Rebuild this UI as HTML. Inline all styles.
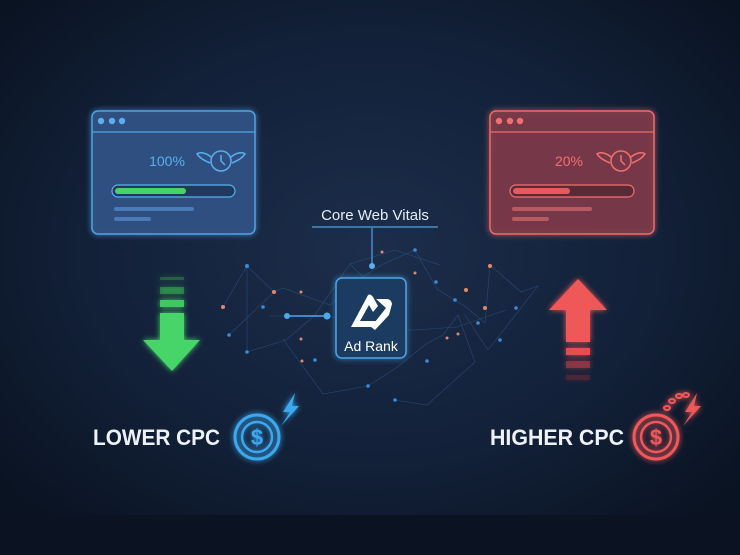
<!DOCTYPE html>
<html><head><meta charset="utf-8"><style>
html,body{margin:0;padding:0;width:740px;height:555px;overflow:hidden;background:#0c1628}
svg{display:block}
text{font-family:"Liberation Sans",sans-serif}
</style></head><body>
<svg width="740" height="555" viewBox="0 0 740 555" xmlns="http://www.w3.org/2000/svg">
<defs>
<radialGradient id="bg" cx="50%" cy="45%" r="65%">
<stop offset="0" stop-color="#1c2e4b"/><stop offset="0.6" stop-color="#122038"/><stop offset="1" stop-color="#0a1322"/>
</radialGradient>
<filter id="glow" x="-30%" y="-30%" width="160%" height="160%"><feGaussianBlur stdDeviation="3" result="b"/><feMerge><feMergeNode in="b"/><feMergeNode in="SourceGraphic"/></feMerge></filter>
</defs>
<rect width="740" height="555" fill="url(#bg)"/>
<rect y="515" width="740" height="40" fill="#0b1322"/>

<!-- network -->
<g stroke="#3a6aa8" stroke-width="0.6" opacity="0.5" fill="none">
<path d="M223 307 L247 266 L274 292 L283 288 L330 305 L363 277 L381 265 L415 250 L437 289 L466 307 L485 323 L490 265 L521 292 L538 286 L488 350 L465 315"/>
<path d="M247 266 L247 352 L286 340 L314 316 L350 264 L395 250 M274 292 L229 335 M283 339 L323 394 L368 386 L396 368 L426 344 L443 335 L458 315 L475 362 L427 405 L395 400"/>
<path d="M270 316 L330 316 L365 330 L415 330 L457 327 L506 310 M350 264 L365 279 M395 250 L440 265"/>
</g>
<g fill="#e08a6a">
<circle cx="223" cy="307" r="2"/><circle cx="274" cy="292" r="2"/><circle cx="301" cy="292" r="1.5"/><circle cx="301" cy="339" r="1.5"/><circle cx="382" cy="252" r="1.5"/><circle cx="415" cy="273" r="1.5"/><circle cx="466" cy="290" r="2"/><circle cx="485" cy="308" r="2"/><circle cx="458" cy="334" r="1.5"/><circle cx="447" cy="338" r="1.5"/><circle cx="490" cy="266" r="2"/><circle cx="302" cy="361" r="1.5"/>
</g>
<g fill="#3a8ad8">
<circle cx="247" cy="266" r="2"/><circle cx="229" cy="335" r="1.8"/><circle cx="247" cy="352" r="1.8"/><circle cx="263" cy="307" r="1.8"/><circle cx="415" cy="250" r="1.8"/><circle cx="436" cy="282" r="1.8"/><circle cx="455" cy="300" r="1.8"/><circle cx="478" cy="323" r="1.8"/><circle cx="516" cy="308" r="1.8"/><circle cx="395" cy="400" r="1.8"/><circle cx="368" cy="386" r="1.8"/><circle cx="427" cy="361" r="1.8"/><circle cx="315" cy="360" r="1.8"/><circle cx="500" cy="340" r="1.8"/>
</g>
<line x1="287" y1="316" x2="327" y2="316" stroke="#4aa8f0" stroke-width="1.5"/>
<circle cx="287" cy="316" r="3" fill="#4aa8f0"/><circle cx="327" cy="316" r="3.5" fill="#4aa8f0"/>

<!-- left window -->
<g filter="url(#glow)">
<rect x="92" y="111" width="163" height="123" rx="6" fill="#2e5080" fill-opacity="0.85" stroke="#4fa3e6" stroke-width="1.5"/>
</g>
<line x1="92" y1="132" x2="255" y2="132" stroke="#4fa3e6" stroke-width="1.2"/>
<circle cx="101" cy="121" r="3.2" fill="#5ab0ee"/><circle cx="112" cy="121" r="3.2" fill="#5ab0ee"/><circle cx="122" cy="121" r="3.2" fill="#5ab0ee"/>
<text x="167" y="166" font-size="14" fill="#5ab0ee" text-anchor="middle">100%</text>
<g stroke="#5ab0ee" stroke-width="1.5" fill="none">
<circle cx="221" cy="161" r="10"/><path d="M221 155 V161 L225 165"/>
<path d="M211 157 C205 152 199 152 197 154 C200 158 203 160 210 163"/>
<path d="M231 157 C237 152 243 152 245 154 C242 158 239 160 232 163"/>
</g>
<rect x="112" y="185" width="123" height="12" rx="6" fill="#1f3a5e" stroke="#5ab0ee" stroke-width="1.2"/>
<rect x="115" y="188" width="71" height="6" rx="3" fill="#46d46a"/>
<rect x="114" y="207" width="80" height="4" rx="2" fill="#4a7ab8"/>
<rect x="114" y="217" width="37" height="4" rx="2" fill="#4a7ab8"/>

<!-- right window -->
<g filter="url(#glow)">
<rect x="490" y="111" width="164" height="123" rx="6" fill="#7a3a48" fill-opacity="0.8" stroke="#f06a6a" stroke-width="1.5"/>
</g>
<line x1="490" y1="132" x2="654" y2="132" stroke="#f06a6a" stroke-width="1.2"/>
<circle cx="499" cy="121" r="3.2" fill="#f07070"/><circle cx="510" cy="121" r="3.2" fill="#f07070"/><circle cx="520" cy="121" r="3.2" fill="#f07070"/>
<text x="569" y="166" font-size="14" fill="#f07070" text-anchor="middle">20%</text>
<g stroke="#f07070" stroke-width="1.5" fill="none">
<circle cx="621" cy="161" r="10"/><path d="M621 155 V161 L625 165"/>
<path d="M611 157 C605 152 599 152 597 154 C600 158 603 160 610 163"/>
<path d="M631 157 C637 152 643 152 645 154 C642 158 639 160 632 163"/>
</g>
<rect x="510" y="185" width="124" height="12" rx="6" fill="#5a2a36" stroke="#f07070" stroke-width="1.2"/>
<rect x="513" y="188" width="57" height="6" rx="3" fill="#e85a5a"/>
<rect x="512" y="207" width="80" height="4" rx="2" fill="#b85a62"/>
<rect x="512" y="217" width="37" height="4" rx="2" fill="#b85a62"/>

<!-- Core Web Vitals -->
<text x="375" y="220" font-size="15" fill="#e8eef8" text-anchor="middle">Core Web Vitals</text>
<line x1="312" y1="227" x2="438" y2="227" stroke="#4fa3e6" stroke-width="1.2"/>
<line x1="372" y1="228" x2="372" y2="266" stroke="#4fa3e6" stroke-width="1.2"/>
<circle cx="372" cy="266" r="3" fill="#5ab0ee"/>

<!-- Ad Rank -->
<g filter="url(#glow)">
<rect x="336" y="278" width="70" height="80" rx="6" fill="#1e3a60" stroke="#4fa3e6" stroke-width="1.5"/>
</g>
<path d="M351 327 L367 297 Q369 292 373 297 L378 306 L373 312 L369 305 L360 321 L377 321 L372 327 Z" fill="#fff"/>
<path d="M376 299 L387 299 Q391 299 392 304 L389 315 L375 330 L371 327 L386 308 Z" fill="#fff"/>
<text x="371" y="351" font-size="14" fill="#fff" text-anchor="middle">Ad Rank</text>

<!-- green arrow -->
<g filter="url(#glow)">
<rect x="160" y="277" width="24" height="3" fill="#2f8a4a" opacity="0.5"/>
<rect x="160" y="287" width="24" height="7" fill="#33a552" opacity="0.6"/>
<rect x="160" y="300" width="24" height="7" fill="#40c860"/>
<path d="M160 313 H184 V340 H200 L172 371 L143 340 H160 Z" fill="#46d468"/>
</g>

<!-- red arrow -->
<g filter="url(#glow)">
<path d="M578 279 L607 310 H590 V342 H566 V310 H549 Z" fill="#ef5858"/>
<rect x="566" y="348" width="24" height="7" fill="#e25050"/>
<rect x="566" y="361" width="24" height="7" fill="#a03a44" opacity="0.7"/>
<rect x="566" y="375" width="24" height="5" fill="#6a2a36" opacity="0.5"/>
</g>

<!-- LOWER CPC -->
<text x="93" y="445" font-size="22" font-weight="bold" fill="#eef2f8" textLength="127" lengthAdjust="spacingAndGlyphs">LOWER CPC</text>
<g filter="url(#glow)" stroke="#3aa8f0" fill="none">
<circle cx="257" cy="437" r="22" stroke-width="3"/>
<circle cx="257" cy="437" r="15" stroke-width="2.5"/>
<text x="257" y="445" font-size="22" font-weight="bold" fill="#3aa8f0" stroke="none" text-anchor="middle">$</text>
<path d="M295 393 L283 412 L290 412 L281 426 L299 406 L292 406 Z" fill="#3aa8f0" stroke="none"/>
</g>

<!-- HIGHER CPC -->
<text x="490" y="445" font-size="22" font-weight="bold" fill="#eef2f8" textLength="134" lengthAdjust="spacingAndGlyphs">HIGHER CPC</text>
<g filter="url(#glow)" stroke="#ef5858" fill="none">
<circle cx="656" cy="437" r="22" stroke-width="3"/>
<circle cx="656" cy="437" r="15" stroke-width="2.5"/>
<text x="656" y="445" font-size="22" font-weight="bold" fill="#ef5858" stroke="none" text-anchor="middle">$</text>
<path d="M697 393 L685 412 L692 412 L683 426 L701 406 L694 406 Z" fill="#ef5858" stroke="none"/>
<g stroke-width="2"><ellipse cx="667" cy="408" rx="3" ry="2"/><ellipse cx="672" cy="401" rx="3" ry="2"/><ellipse cx="679" cy="396" rx="3" ry="2"/><ellipse cx="686" cy="395" rx="3" ry="2"/></g>
</g>
</svg>
</body></html>
